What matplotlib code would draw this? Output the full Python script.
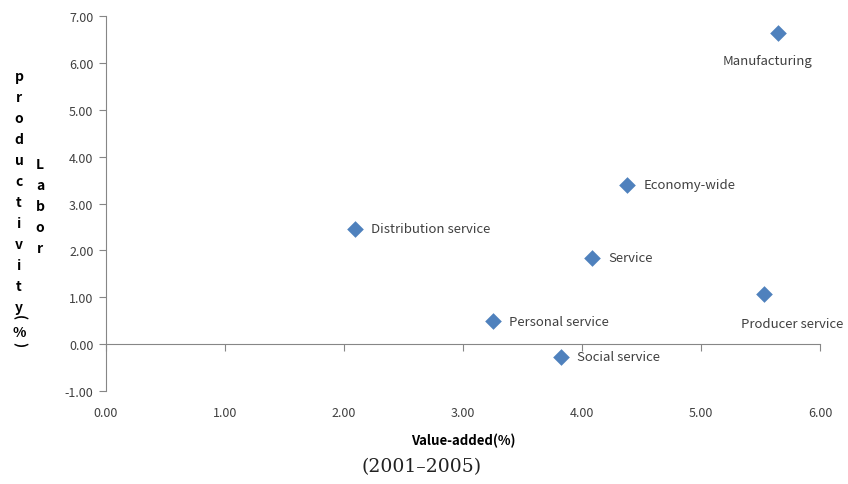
import matplotlib.pyplot as plt
import numpy as np

# sector growth, 2001-2005
sectors = ["Manufacturing", "Economy-wide", "Distribution service", "Service",
           "Producer service", "Personal service", "Social service"]
value_added = [5.65, 4.38, 2.09, 4.08, 5.53, 3.25, 3.82]
labor_prod = [6.64, 3.40, 2.46, 1.84, 1.07, 0.49, -0.27]

# label offsets in points (dx, dy) and alignment
label_off = [(-8, -20), (12, 0), (12, 0), (12, 0), (20, -21), (12, 0), (12, 0)]
label_ha = ["center", "left", "left", "left", "center", "left", "left"]

x_ticks = np.arange(0, 7, 1)
y_ticks = np.arange(-1, 8, 1)

axis_grey = "#868686"
text_grey = "#404040"
lab_font = ["Noto Sans CJK KR", "DejaVu Sans"]

W, H = 848, 485
fig = plt.figure(figsize=(W / 100, H / 100), dpi=100)
ax = fig.add_axes([106 / W, 1 - 392 / H, 714 / W, 375 / H])

ax.scatter(value_added, labor_prod, marker="D", s=72, color="#4F81BD",
           linewidths=0, zorder=3)

for name, x, y, off, ha in zip(sectors, value_added, labor_prod, label_off, label_ha):
    ax.annotate(name, (x, y), xytext=off, textcoords="offset points",
                ha=ha, va="center", fontsize=9.5, color=text_grey, family=lab_font)

ax.set_xlim(0, 6)
ax.set_ylim(-1, 7)
ax.set_xticks(x_ticks)
ax.set_yticks(y_ticks)
ax.set_xticklabels([f"{v:.2f}" for v in x_ticks], family=lab_font)
ax.set_yticklabels([f"{v:.2f}" for v in y_ticks], family=lab_font)
ax.tick_params(axis="x", length=0, pad=11, labelsize=9, labelcolor=text_grey)
ax.tick_params(axis="y", length=5, width=0.8, color=axis_grey, labelsize=9,
               labelcolor=text_grey, pad=4)

for side in ["top", "right", "bottom"]:
    ax.spines[side].set_visible(False)
ax.spines["left"].set_color(axis_grey)

# horizontal axis line crossing at zero, ticks only
zero_axis = ax.secondary_xaxis(1 / 8)
zero_axis.set_xticks(x_ticks)
zero_axis.set_xticklabels([])
zero_axis.tick_params(axis="x", direction="out", length=5, width=0.8, color=axis_grey)
zero_axis.spines["bottom"].set_color(axis_grey)

ax.set_xlabel("Value-added(%)", fontsize=9.5, fontweight="bold", family=lab_font,
              labelpad=10)


def put_char(px, py, ch, rot=0):
    fig.text(px / W, 1 - py / H, ch, ha="center", va="center", fontsize=10,
             fontweight="bold", rotation=rot, family=lab_font)


# stacked vertical y label, two columns
for i, ch in enumerate("productivity"):
    put_char(19, 77 + i * 21, ch)
put_char(19, 318, "(", rot=-90)
put_char(19, 333, "%")
put_char(19, 345, ")", rot=-90)
for i, ch in enumerate("Labor"):
    put_char(40, 165 + i * 21, ch)

fig.text(422 / W, 1 - 467 / H, "(2001\u20132005)", ha="center", va="center",
         fontsize=13.5, family="DejaVu Serif", color="#222222")

fig.savefig("out.png", dpi=100)
